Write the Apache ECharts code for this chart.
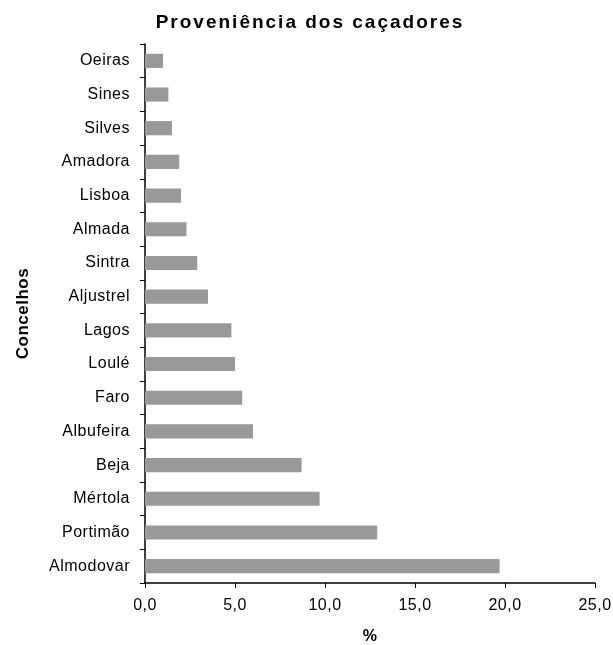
<!DOCTYPE html>
<html><head><meta charset="utf-8">
<script src="https://cdn.jsdelivr.net/npm/echarts@6/dist/echarts.min.js"></script>
<style>html,body{margin:0;padding:0;background:#fff}#c{width:613px;height:645px}</style>
</head><body><div id="c"></div>
<script>
const categories = ["Almodovar","Portimão","Mértola","Beja","Albufeira","Faro","Loulé","Lagos","Aljustrel","Sintra","Almada","Lisboa","Amadora","Silves","Sines","Oeiras"];
const values = [19.7,12.9,9.7,8.7,6.0,5.4,5.0,4.8,3.5,2.9,2.3,2.0,1.9,1.5,1.3,1.0];
const xTicks = [0,5,10,15,20,25];

// Excel-like letter spacing for canvas text
(function(){
  const proto = CanvasRenderingContext2D.prototype;
  const orig = proto.fillText;
  proto.fillText = function(){
    try {
      const f = this.font || '';
      this.letterSpacing = /19px/.test(f) ? '2px' : '0.5px';
    } catch(e){}
    return orig.apply(this, arguments);
  };
})();

const FONT = 'Liberation Sans, Arial, sans-serif';
const chart = echarts.init(document.getElementById('c'));
chart.setOption({
  animation:false,
  backgroundColor:'#fff',
  title:{text:'Proveniência dos caçadores',left:305,top:8,textAlign:'center',
    textStyle:{fontFamily:FONT,fontWeight:'bold',fontSize:19,color:'#000'}},
  grid:{left:145,right:18,top:44,bottom:62,containLabel:false,outerBoundsMode:'none'},
  xAxis:{type:'value',min:xTicks[0],max:xTicks[xTicks.length-1],interval:xTicks[1]-xTicks[0],
    name:'%',nameLocation:'middle',nameGap:46,
    nameTextStyle:{fontFamily:FONT,fontWeight:'bold',fontSize:16,color:'#000'},
    axisLine:{show:true,lineStyle:{color:'#000',width:1.5}},
    axisTick:{show:true,length:5,lineStyle:{color:'#000'}},
    splitLine:{show:false},
    axisLabel:{margin:15,fontFamily:FONT,fontSize:16,color:'#000',
      formatter:v=>v.toFixed(1).replace('.',',')}},
  yAxis:{type:'category',data:categories,
    name:'Concelhos',nameLocation:'middle',nameGap:113,nameRotate:90,
    nameTextStyle:{fontFamily:FONT,fontWeight:'bold',fontSize:17,color:'#000'},
    axisLine:{show:true,lineStyle:{color:'#000',width:1.5}},
    axisTick:{show:true,length:5,lineStyle:{color:'#000'}},
    axisLabel:{margin:15,fontFamily:FONT,fontSize:16,color:'#000'}},
  series:[{type:'bar',data:values,barCategoryGap:'58%',
    itemStyle:{color:'#999999'}}]
});
</script></body></html>
